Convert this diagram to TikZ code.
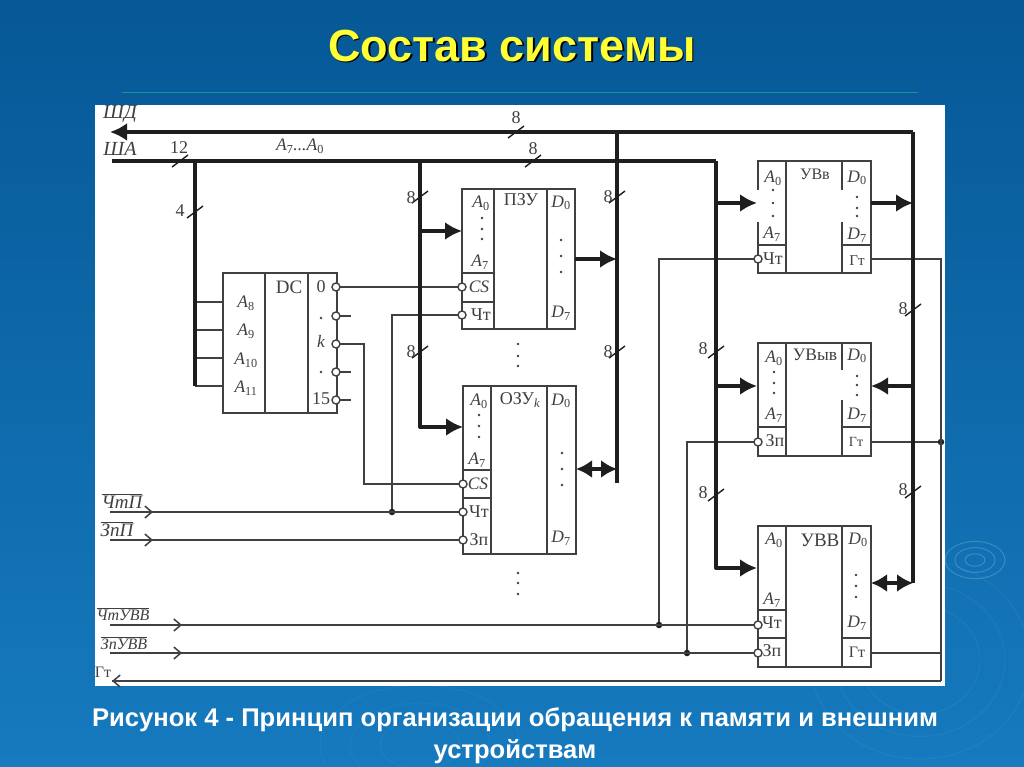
\documentclass[tikz,border=0pt]{standalone}
\usepackage{fontspec}
\setmainfont{Liberation Serif}
\newfontfamily\capfont{Liberation Sans}
\usetikzlibrary{arrows.meta,calc,shadows}
\definecolor{ink}{HTML}{404040}
\definecolor{inkd}{HTML}{1E1E1E}
\definecolor{title}{HTML}{FFFF33}
\newcommand{\sbs}[1]{\textsubscript{\upshape #1}}
\newcommand{\ovl}[1]{$\overline{\hbox{#1}}$}
\tikzset{
  x=1pt,y=-1pt,
  blk/.style={draw=ink,line width=1.5pt,rectangle,inner sep=0,outer sep=0},
  div/.style={draw=ink,line width=1.5pt},
  wire/.style={draw=ink,line width=1.5pt},
  bus/.style={draw=inkd,line width=3.4pt,line join=round},
  tk/.style={draw=inkd,line width=1.4pt},
  pin/.style={circle,draw=ink,fill=white,line width=1.4pt,inner sep=0,minimum size=8pt,outer sep=0},
  dot/.style={circle,fill=inkd,inner sep=0,minimum size=6.5pt},
  txt/.style={inner sep=0,text=ink,font=\fontsize{18}{18}\selectfont},
  it/.style={txt,font=\fontsize{17.5}{17.5}\selectfont\itshape},
  sm/.style={txt,font=\fontsize{15}{15}\selectfont},
  pt/.style={circle,fill=ink,inner sep=0,minimum size=2.6pt},
  head/.style={-{Latex[length=17pt,width=18pt]}},
  both/.style={{Latex[length=16pt,width=18pt]}-{Latex[length=16pt,width=18pt]}},
  barb/.style={-{Straight Barb[length=7pt,width=12pt]},line width=1.5pt,draw=ink},
  rip/.style={draw=white,opacity=.1,line width=1pt}
}
\newcommand{\tickat}[1]{\draw[tk] ($(#1)+(-8,6)$) -- ($(#1)+(8,-6)$);}
\begin{document}
\begin{tikzpicture}
\useasboundingbox (0,0) rectangle (1024,767);
% slide background
\shade[top color={rgb,255:red,6;green,88;blue,150},bottom color={rgb,255:red,22;green,122;blue,190}] (0,0) rectangle (1024,767);
\foreach \r in {10,20,30} {\draw[rip,opacity=.18] (975,560) ellipse ({\r*1.0} and {\r*.62});}
\foreach \r in {60,85,110} {\draw[rip,opacity=.05] (920,660) ellipse ({\r*1.0} and {\r*.9});}
\foreach \r in {40,70,100} {\draw[rip,opacity=.04] (420,745) ellipse ({\r*1.0} and {\r*.6});}
\draw[draw={rgb,255:red,20;green,150;blue,150},line width=1pt] (122,93) -- (918,93);
\node[inner sep=0,text=black,font=\capfont\bfseries\fontsize{45}{45}\selectfont] at (513.5,47.5) {Состав системы};
\node[inner sep=0,text=title,font=\capfont\bfseries\fontsize{45}{45}\selectfont] (ttl) at (512,46) {Состав системы};
\node[inner sep=0,text=white,align=center,font=\capfont\bfseries\fontsize{25.6}{32}\selectfont] (cap) at (515,736) {Рисунок 4 - Принцип организации обращения к памяти и внешним\\устройствам};
% panel
\fill[white] (95,105) rectangle (945,686);
% blocks
\node[blk,minimum width=114pt,minimum height=140pt] (dc) at (280,343) {};
\node[blk,minimum width=113pt,minimum height=140pt] (pzu) at (518.5,259) {};
\node[blk,minimum width=113pt,minimum height=168pt] (ozu) at (519.5,470) {};
\node[blk,minimum width=113pt,minimum height=112pt] (uva) at (814.5,217) {};
\node[blk,minimum width=113pt,minimum height=113pt] (uvb) at (814.5,399.5) {};
\node[blk,minimum width=113pt,minimum height=141pt] (uvc) at (814.5,596.5) {};
% block inner dividers
\draw[div] (265,273) -- (265,413) (308,273) -- (308,413);
\draw[div] (494,189) -- (494,329) (547,189) -- (547,329) (462,273) -- (494,273) (462,302) -- (494,302);
\draw[div] (491,386) -- (491,554) (547,386) -- (547,554) (463,470) -- (491,470) (463,498) -- (491,498);
\draw[div] (786,161) -- (786,273) (842,161) -- (842,190) (842,222) -- (842,273) (758,245) -- (786,245) (842,245) -- (871,245);
\draw[white,line width=2.6pt] (758,190) -- (758,222);
\draw[div] (786,343) -- (786,456) (842,343) -- (842,370) (842,400) -- (842,456) (758,427) -- (786,427) (842,427) -- (871,427);
\draw[div] (786,526) -- (786,667) (842,526) -- (842,667) (758,610) -- (786,610) (758,638) -- (786,638) (842,638) -- (871,638);
% free ends
\coordinate (sdL) at (110,132); \coordinate (sdR) at (913,132);
\coordinate (saL) at (112,161); \coordinate (saT) at (195,161); \coordinate (saA) at (420,161); \coordinate (saR) at (716,161);
\coordinate (saB) at (195,386); \coordinate (saD) at (716,568);
\coordinate (a8) at (195,302); \coordinate (a9) at (195,330); \coordinate (a10) at (195,358);
\coordinate (dv) at (617,132); \coordinate (dvB) at (617,483);
\coordinate (chp) at (110,512); \coordinate (zap) at (110,540);
\coordinate (chu) at (110,625); \coordinate (zpu) at (110,653); \coordinate (gt) at (112,681);
\coordinate (gtB) at (941,681);
% pins
\foreach \n/\y in {0/287,1/316,k/344,3/372,15/400} {\node[pin] (dc\n) at (336,\y) {};}
\node[pin] (pzuCS) at (462,287) {};
\node[pin] (pzuR) at (462,315) {};
\node[pin] (ozuCS) at (463,484) {};
\node[pin] (ozuR) at (463,512) {};
\node[pin] (ozuW) at (463,540) {};
\node[pin] (uvaR) at (758,259) {};
\node[pin] (uvbW) at (758,442) {};
\node[pin] (uvcR) at (758,625) {};
\node[pin] (uvcW) at (758,653) {};
\node[dot] (jr) at (392,512) {};
\node[dot] (ju1) at (659,625) {};
\node[dot] (ju2) at (687,653) {};
\node[dot] (jg) at (941,442) {};
% thin wires
\draw[wire] (dc0) -- (pzuCS);
\draw[wire] (dck) -- (364,344) -- (364,484) -- (ozuCS);
\draw[wire] (dc1) -- (351,316) (dc3) -- (351,372) (dc15) -- (351,400);
\draw[wire] (jr) -- (392,315) -- (pzuR);
\draw[wire] (chp) -- (ozuR);
\draw[wire] (zap) -- (ozuW);
\draw[wire] (chu) -- (uvcR);
\draw[wire] (zpu) -- (uvcW);
\draw[wire] (ju1) -- (659,259) -- (uvaR);
\draw[wire] (ju2) -- (687,442) -- (uvbW);
\draw[wire] (871,259) -- (941,259) -- (gtB);
\draw[wire] (871,442) -- (jg);
\draw[wire] (871,653) -- (941,653);
\draw[wire] (gtB) -- (gt);
\draw[wire] (a8) -- (223,302) (a9) -- (223,330) (a10) -- (223,358);
\draw[wire] (saB) -- (223,386);
% open arrowheads
\draw[barb] (chp) -- (153,512);
\draw[barb] (zap) -- (153,540);
\draw[barb] (chu) -- (182,625);
\draw[barb] (zpu) -- (182,653);
\draw[barb] (125,681) -- (gt);
% buses
\draw[bus,head] (sdR) -- (sdL);
\draw[bus] (sdR) -- (913,583);
\draw[bus] (saL) -- (saR);
\draw[bus] (saT) -- (saB);
\draw[bus] (dv) -- (dvB);
\draw[bus,head] (saA) -- (420,427) -- (463,427);
\draw[bus,head] (saR) -- (saD) -- (757,568);
\draw[bus,head] (420,231) -- (462,231);
\draw[bus,head] (575,259) -- (617,259);
\draw[bus,both] (576,469) -- (617,469);
\draw[bus,head] (716,203) -- (757,203);
\draw[bus,head] (871,203) -- (913,203);
\draw[bus,head] (716,386) -- (757,386);
\draw[bus,head] (913,386) -- (871,386);
\draw[bus,both] (871,583) -- (913,583);
% bus ticks
\foreach \p in {{516,132},{533,161},{180,161},{195,212},{420,197},{617,197},{420,352},{617,352},{716,352},{716,495},{913,310},{913,492}} {\tickat{\p}}
% bus labels
\foreach \x/\y/\t in {516/118/8,533/149/8,179/148/12,180/211/4,411/198/8,608/197/8,411/352/8,608/352/8,703/349/8,703/493/8,903/309/8,903/490/8} {\node[txt] at (\x,\y) {\t};}
\node[it,font=\fontsize{20}{20}\selectfont\itshape] (l1) at (120,114) {ШД};
\node[it,font=\fontsize{20}{20}\selectfont\itshape] (l2) at (120,149) {ША};
\node[it] (l3) at (300,146) {A\sbs{7}...A\sbs{0}};
\node[it,font=\fontsize{19}{19}\selectfont\itshape] (l4) at (122,501) {\ovl{ЧтП}};
\node[it,font=\fontsize{19}{19}\selectfont\itshape] (l5) at (117,529) {\ovl{ЗпП}};
\node[it,font=\fontsize{16}{16}\selectfont\itshape] (l6) at (123,614) {\ovl{ЧтУВВ}};
\node[it,font=\fontsize{16}{16}\selectfont\itshape] (l7) at (124,643) {\ovl{ЗпУВВ}};
\node[txt,font=\fontsize{16}{16}\selectfont] (l8) at (103,672) {Гт};
% DC text
\foreach \y/\t in {303/8,331/9,360/10,388/11} {\node[it] at (246,\y) {A\sbs{\t}};}
\node[txt,font=\fontsize{19}{19}\selectfont] at (289,287) {DC};
\node[txt] at (321,287) {0};
\node[it] at (321,341) {k};
\node[txt] at (321,399) {15};
\foreach \y in {318,372} {\node[pt] at (321,\y) {};}
% PZU text
\node[it] at (481,203) {A\sbs{0}};
\node[it] at (480,262) {A\sbs{7}};
\node[it] at (479,287) {CS};
\node[txt] at (481,315) {Чт};
\node[txt] at (521,200) {ПЗУ};
\node[it] at (561,203) {D\sbs{0}};
\node[it] at (561,313) {D\sbs{7}};
\foreach \y in {218,229,239} {\node[pt] at (482,\y) {};}
\foreach \y in {240,256,272} {\node[pt] at (561,\y) {};}
\foreach \y in {344,356,366} {\node[pt] at (518,\y) {};}
% OZU text
\node[it] at (479,401) {A\sbs{0}};
\node[it] at (477,460) {A\sbs{7}};
\node[it] at (478,484) {CS};
\node[txt] at (479,512) {Чт};
\node[txt] at (479,540) {Зп};
\node[txt] at (520,400) {ОЗУ\textsubscript{\itshape k}};
\node[it] at (561,401) {D\sbs{0}};
\node[it] at (561,538) {D\sbs{7}};
\foreach \y in {415,426,437} {\node[pt] at (479,\y) {};}
\foreach \y in {453,469,485} {\node[pt] at (562,\y) {};}
\foreach \y in {573,583,594} {\node[pt] at (518,\y) {};}
% UVv text
\node[it] at (773,178) {A\sbs{0}};
\node[it] at (772,234) {A\sbs{7}};
\node[txt] at (773,259) {Чт};
\node[txt,font=\fontsize{16}{16}\selectfont] at (815,174) {УВв};
\node[it] at (857,178) {D\sbs{0}};
\node[it] at (857,235) {D\sbs{7}};
\node[sm] at (857,261) {Гт};
\foreach \y in {190,203,216} {\node[pt] at (773,\y) {};}
\foreach \y in {197,208,216} {\node[pt] at (857,\y) {};}
% UVyv text
\node[it] at (774,358) {A\sbs{0}};
\node[it] at (774,415) {A\sbs{7}};
\node[txt] at (775,441) {Зп};
\node[txt,font=\fontsize{17.5}{17.5}\selectfont] at (815,355) {УВыв};
\node[it] at (857,356) {D\sbs{0}};
\node[it] at (857,415) {D\sbs{7}};
\node[sm,font=\fontsize{14}{14}\selectfont] at (856,442) {Гт};
\foreach \y in {372,383,393} {\node[pt] at (774,\y) {};}
\foreach \y in {376,385,395} {\node[pt] at (857,\y) {};}
% UVV text
\node[it] at (774,540) {A\sbs{0}};
\node[it] at (772,600) {A\sbs{7}};
\node[txt] at (772,623) {Чт};
\node[txt] at (772,651) {Зп};
\node[txt,font=\fontsize{19}{19}\selectfont] at (820,540) {УВВ};
\node[it] at (858,540) {D\sbs{0}};
\node[it] at (857,623) {D\sbs{7}};
\node[txt,font=\fontsize{16}{16}\selectfont] at (857,652) {Гт};
\foreach \y in {575,586,597} {\node[pt] at (856,\y) {};}
\end{tikzpicture}
\end{document}
